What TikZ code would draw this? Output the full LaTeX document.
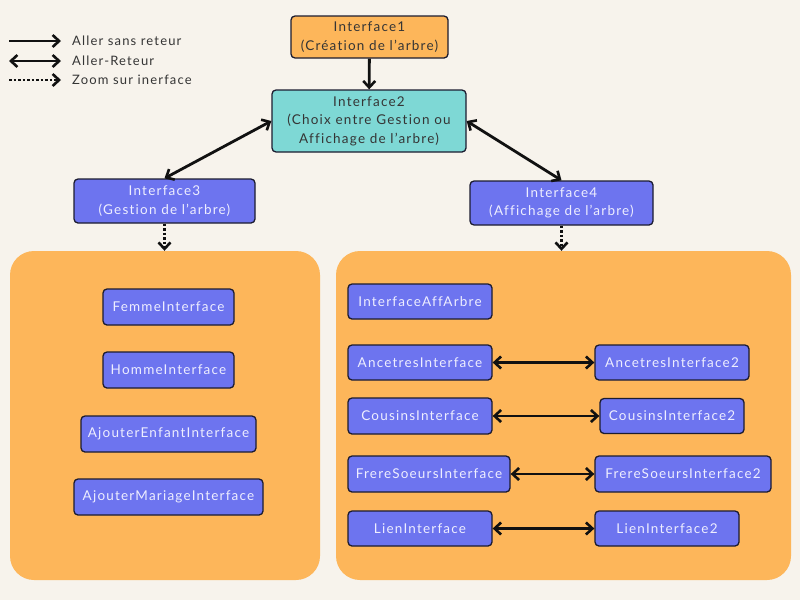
\documentclass[tikz,border=0pt]{standalone}
\usepackage{fontspec}
\setmainfont[LetterSpace=9,Ligatures=NoCommon]{Lato}
\usetikzlibrary{arrows.meta}
\definecolor{fond}{HTML}{F7F3EC}
\definecolor{orangeclair}{HTML}{FDB65A}
\definecolor{turquoise}{HTML}{7ED8D5}
\definecolor{mauve}{HTML}{6D74EF}
\definecolor{bord}{HTML}{1C1C30}
\definecolor{fleche}{HTML}{111111}
\definecolor{texte}{HTML}{353535}
\definecolor{lavande}{HTML}{EEEEFF}
\begin{document}
\begin{tikzpicture}[x=1pt,y=-1pt]
  \tikzset{
    boite/.style={draw=bord, line width=1.3pt, rounded corners=4pt, align=center,
      inner sep=0pt, text=texte, font=\fontsize{13.5}{18.5}\selectfont},
    inter/.style={boite, fill=mauve, text=lavande},
    panneau/.style={fill=orangeclair, rounded corners=24pt, inner sep=0pt},
    pointe/.tip={Straight Barb[length=6.5pt,width=12pt,line width=2.6pt]},
    aller/.style={-pointe, line width=2.8pt, fleche},
    retour/.style={pointe-pointe, line width=2.8pt, fleche},
    zoomfleche/.style={-pointe, line width=2.8pt, fleche, dash pattern=on 2.5pt off 2pt},
    legende/.style={anchor=west, inner sep=0pt, text=texte, font=\fontsize{13}{15}\selectfont}
  }
  \fill[fond] (0,0) rectangle (800,600);

  % legende
  \node[legende] (t1) at (72,41) {Aller sans reteur};
  \node[legende] (t2) at (72,61) {Aller-Reteur};
  \node[legende] (t3) at (72,80) {Zoom sur inerface};
  \coordinate (l1) at (9,41);
  \coordinate (l2) at (9,61);
  \coordinate (l3) at (9,80);
  \draw[aller] (l1) -- ([xshift=-11pt]t1.west);
  \draw[retour] (l2) -- ([xshift=-11pt]t2.west);
  \draw[zoomfleche] (l3) -- ([xshift=-11pt]t3.west);

  % panneaux
  \node[panneau, minimum width=310, minimum height=329] (gauche) at (165,415.5) {};
  \node[panneau, minimum width=455, minimum height=329] (droite) at (563.5,415.5) {};

  % interfaces principales
  \node[boite, fill=orangeclair, minimum width=157, minimum height=42] (i1) at (369.5,37)
    {Interface1\\(Création de l'arbre)};
  \node[boite, fill=turquoise, minimum width=194, minimum height=62] (i2) at (369,121)
    {Interface2\\(Choix entre Gestion ou\\Affichage de l'arbre)};
  \node[inter, minimum width=181, minimum height=44] (i3) at (164.5,201)
    {Interface3\\(Gestion de l'arbre)};
  \node[inter, minimum width=183, minimum height=44] (i4) at (561.5,203)
    {Interface4\\(Affichage de l'arbre)};

  \draw[aller] (i1) -- (i2);
  \draw[retour] (i2.west) -- (i3.north);
  \draw[retour] (i2.east) -- (i4.north);
  \draw[zoomfleche] (i3.south) -- (i3.south |- gauche.north);
  \draw[zoomfleche] (i4.south) -- (i4.south |- droite.north);

  % gestion
  \node[inter, minimum width=131, minimum height=36] (femme) at (168.5,307) {FemmeInterface};
  \node[inter, minimum width=131, minimum height=36] (homme) at (168.5,370) {HommeInterface};
  \node[inter, minimum width=175, minimum height=36] (enfant) at (168.5,434) {AjouterEnfantInterface};
  \node[inter, minimum width=189, minimum height=36] (mariage) at (168.5,497) {AjouterMariageInterface};

  % affichage
  \node[inter, minimum width=144, minimum height=35] (aff) at (420,301.5) {InterfaceAffArbre};
  \node[inter, minimum width=144, minimum height=35] (anc) at (420,362.5) {AncetresInterface};
  \node[inter, minimum width=144, minimum height=36] (cou) at (420,416) {CousinsInterface};
  \node[inter, minimum width=162, minimum height=36] (fre) at (429,474) {FrereSoeursInterface};
  \node[inter, minimum width=144, minimum height=35] (lien) at (420,528.5) {LienInterface};
  \node[inter, minimum width=154, minimum height=35] (anc2) at (672,362.5) {AncetresInterface2};
  \node[inter, minimum width=144, minimum height=35] (cou2) at (672,416) {CousinsInterface2};
  \node[inter, minimum width=176, minimum height=36] (fre2) at (683,474) {FrereSoeursInterface2};
  \node[inter, minimum width=144, minimum height=35] (lien2) at (667,528.5) {LienInterface2};

  \foreach \a/\b in {%
    anc/anc2,cou/cou2,fre/fre2,lien/lien2%
  }{
    \draw[retour] (\a) -- (\b);
  }
\end{tikzpicture}
\end{document}
